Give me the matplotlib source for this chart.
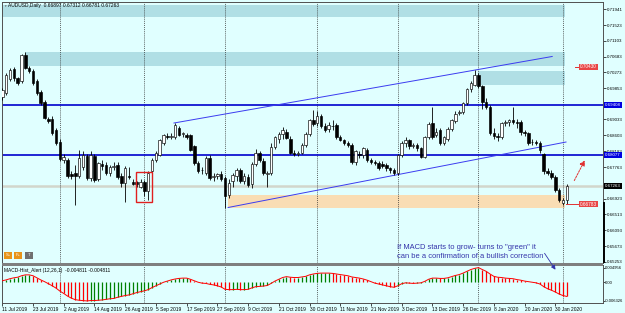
import matplotlib
matplotlib.use('Agg')
import matplotlib.pyplot as plt
from matplotlib.patches import Rectangle, FancyArrowPatch
from matplotlib.lines import Line2D

plt.rcParams['font.family'] = ['Liberation Sans', 'DejaVu Sans']

# ---------------- data ----------------
opens = [0.6962,0.6972,0.7010,0.7036,0.7011,0.7005,0.7072,0.7040,0.7030,0.7005,
         0.6975,0.6950,0.6903,0.6905,0.6875,0.6843,0.6795,0.6795,0.6758,0.6760,
         0.6752,0.6778,0.6805,0.6747,0.6805,0.6745,0.6784,0.6782,0.6760,0.6776,
         0.6782,0.6752,0.6734,0.6752,0.6738,0.6736,0.6725,0.6738,0.6712,0.6765,
         0.6795,0.6809,0.6840,0.6860,0.6857,0.6857,0.6879,0.6864,0.6862,0.6862,
         0.6831,0.6787,0.6768,0.6760,0.6800,0.6750,0.6752,0.6758,0.6747,0.6703,
         0.6740,0.6752,0.6770,0.6740,0.6750,0.6732,0.6785,0.6815,0.6792,0.6758,
         0.6760,0.6830,0.6850,0.6865,0.6870,0.6852,0.6815,0.6812,0.6815,0.6835,
         0.6865,0.6900,0.6892,0.6912,0.6885,0.6878,0.6886,0.6887,0.6857,0.6848,
         0.6839,0.6835,0.6790,0.6810,0.6809,0.6822,0.6796,0.6790,0.6787,0.6785,
         0.6782,0.6773,0.6768,0.6762,0.6808,0.6840,0.6848,0.6833,0.6835,0.6826,
         0.6804,0.6857,0.6892,0.6862,0.6875,0.6840,0.6850,0.6878,0.6898,0.6920,
         0.6922,0.6945,0.6982,0.6995,0.7020,0.6990,0.6950,0.6936,0.6866,0.6860,
         0.6855,0.6893,0.6897,0.6900,0.6897,0.6895,0.6870,0.6866,0.6842,0.6844,
         0.6840,0.6812,0.6765,0.6760,0.6751,0.6716,0.6682,0.66897]
highs = [0.6985,0.7025,0.7040,0.7042,0.7016,0.7077,0.7082,0.7045,0.7035,0.7010,
         0.6980,0.6955,0.6910,0.6912,0.6880,0.6850,0.6810,0.6800,0.6765,0.6782,
         0.6822,0.6818,0.6812,0.6818,0.6810,0.6790,0.6795,0.6790,0.6782,0.6790,
         0.6790,0.6760,0.6780,0.6778,0.6745,0.6740,0.6745,0.6742,0.6765,0.6800,
         0.6820,0.6852,0.6865,0.6868,0.6866,0.6892,0.6885,0.6870,0.6868,0.6865,
         0.6835,0.6792,0.6776,0.6805,0.6808,0.6760,0.6760,0.6765,0.6752,0.6745,
         0.6760,0.6775,0.6775,0.6760,0.6758,0.6790,0.6825,0.6820,0.6800,0.6765,
         0.6840,0.6860,0.6870,0.6882,0.6876,0.6860,0.6822,0.6820,0.6840,0.6870,
         0.6905,0.6928,0.6925,0.6918,0.6892,0.6895,0.6900,0.6892,0.6862,0.6852,
         0.6845,0.6840,0.6822,0.6818,0.6830,0.6828,0.6800,0.6795,0.6792,0.6792,
         0.6788,0.6778,0.6775,0.6812,0.6845,0.6855,0.6852,0.6840,0.6840,0.6830,
         0.6860,0.6895,0.6936,0.6880,0.6880,0.6858,0.6882,0.6905,0.6925,0.6928,
         0.6948,0.6985,0.7005,0.7034,0.7025,0.6995,0.6960,0.6940,0.6880,0.6868,
         0.6895,0.6900,0.6905,0.6936,0.6905,0.6900,0.6875,0.6870,0.6850,0.6848,
         0.6845,0.6815,0.6775,0.6770,0.6756,0.6722,0.6695,0.67312]
lows = [0.6955,0.6968,0.7003,0.7005,0.6995,0.7000,0.7035,0.7025,0.6995,0.6968,
        0.6940,0.6903,0.6892,0.6862,0.6835,0.6792,0.6788,0.6748,0.6745,0.6677,
        0.6748,0.6770,0.6742,0.6740,0.6738,0.6740,0.6770,0.6755,0.6752,0.6770,
        0.6745,0.6725,0.6685,0.6745,0.6728,0.6725,0.6720,0.6700,0.6689,0.6760,
        0.6790,0.6805,0.6835,0.6850,0.6850,0.6852,0.6858,0.6855,0.6852,0.6818,
        0.6783,0.6760,0.6758,0.6755,0.6742,0.6740,0.6745,0.6740,0.6667,0.6695,
        0.6725,0.6740,0.6735,0.6732,0.6725,0.6720,0.6780,0.6790,0.6755,0.6725,
        0.6755,0.6825,0.6840,0.6850,0.6850,0.6810,0.6805,0.6805,0.6810,0.6830,
        0.6860,0.6885,0.6885,0.6880,0.6870,0.6870,0.6875,0.6850,0.6845,0.6835,
        0.6830,0.6785,0.6782,0.6800,0.6800,0.6790,0.6785,0.6782,0.6770,0.6775,
        0.6765,0.6762,0.6755,0.6755,0.6802,0.6830,0.6825,0.6828,0.6820,0.6800,
        0.6800,0.6852,0.6850,0.6855,0.6835,0.6835,0.6845,0.6872,0.6892,0.6915,
        0.6918,0.6940,0.6975,0.6990,0.6985,0.6930,0.6930,0.6862,0.6850,0.6845,
        0.6850,0.6885,0.6885,0.6890,0.6880,0.6862,0.6860,0.6835,0.6835,0.6835,
        0.6815,0.6758,0.6755,0.6745,0.6710,0.6685,0.6676,0.66781]
closes = [0.6980,0.7020,0.7033,0.7011,0.7000,0.7072,0.7040,0.7032,0.6998,0.6972,
          0.6945,0.6906,0.6898,0.6866,0.6839,0.6797,0.6802,0.6752,0.6752,0.6752,
          0.6800,0.6809,0.6747,0.6809,0.6742,0.6787,0.6780,0.6760,0.6778,0.6779,
          0.6751,0.6735,0.6773,0.6751,0.6732,0.6732,0.6738,0.6712,0.6760,0.6796,
          0.6813,0.6848,0.6861,0.6857,0.6860,0.6888,0.6862,0.6866,0.6857,0.6822,
          0.6787,0.6765,0.6770,0.6800,0.6747,0.6752,0.6758,0.6745,0.6700,0.6734,
          0.6755,0.6770,0.6740,0.6752,0.6730,0.6785,0.6815,0.6795,0.6760,0.6760,
          0.6830,0.6855,0.6865,0.6875,0.6853,0.6815,0.6812,0.6815,0.6835,0.6865,
          0.6900,0.6890,0.6912,0.6885,0.6875,0.6888,0.6885,0.6857,0.6848,0.6839,
          0.6835,0.6790,0.6818,0.6809,0.6826,0.6796,0.6791,0.6787,0.6773,0.6780,
          0.6773,0.6769,0.6760,0.6808,0.6840,0.6848,0.6831,0.6835,0.6826,0.6804,
          0.6857,0.6890,0.6857,0.6870,0.6840,0.6855,0.6878,0.6900,0.6918,0.6922,
          0.6945,0.6982,0.7000,0.7020,0.6990,0.6950,0.6936,0.6866,0.6860,0.6855,
          0.6893,0.6897,0.6900,0.6897,0.6892,0.6870,0.6866,0.6840,0.6844,0.6840,
          0.6822,0.6765,0.6760,0.6751,0.6716,0.6689,0.6690,0.67263]
macd = [0.0005,0.0008,0.0012,0.0015,0.0017,0.0022,0.0025,0.0025,0.0022,0.0015,
        0.0008,0.0002,-0.0005,-0.0012,-0.0020,-0.0030,-0.0038,-0.0047,-0.0054,-0.0059,
        -0.0061,-0.0062,-0.006326,-0.0062,-0.0062,-0.0061,-0.0060,-0.0058,-0.0056,-0.0055,
        -0.0051,-0.0048,-0.0045,-0.0043,-0.0039,-0.0035,-0.0032,-0.0029,-0.0025,-0.0018,
        -0.0012,-0.0006,0.0000,0.0004,0.0008,0.0011,0.0013,0.0014,0.0014,0.0010,
        0.0005,0.0000,-0.0003,-0.0004,-0.0007,-0.0009,-0.0012,-0.0016,-0.0024,-0.0025,
        -0.0025,-0.0024,-0.0025,-0.0025,-0.0024,-0.0019,-0.0015,-0.0014,-0.0013,-0.0011,
        -0.0004,0.0004,0.0010,0.0016,0.0019,0.0017,0.0016,0.0016,0.0018,0.0020,
        0.0025,0.0028,0.0030,0.0031,0.0031,0.0031,0.0030,0.0028,0.0026,0.0024,
        0.0022,0.0018,0.0016,0.0014,0.0011,0.0007,0.0002,-0.0003,-0.0006,-0.0009,
        -0.0012,-0.0015,-0.0017,-0.0012,-0.0005,-0.0002,-0.0003,-0.0004,-0.0003,-0.0002,
        0.0003,0.0010,0.0014,0.0014,0.0013,0.0013,0.0015,0.0019,0.0023,0.0026,
        0.0031,0.0037,0.0043,0.0047,0.004956,0.0043,0.0037,0.0028,0.0020,0.0017,
        0.0016,0.0014,0.0013,0.0012,0.0009,0.0007,0.0004,0.0002,0.0000,-0.0002,
        -0.0006,-0.0015,-0.0022,-0.0027,-0.0033,-0.0040,-0.0045,-0.004811]

date_labels = ["11 Jul 2019", "23 Jul 2019", "2 Aug 2019", "14 Aug 2019", "26 Aug 2019",
               "5 Sep 2019", "17 Sep 2019", "27 Sep 2019", "9 Oct 2019", "21 Oct 2019",
               "30 Oct 2019", "11 Nov 2019", "21 Nov 2019", "3 Dec 2019", "13 Dec 2019",
               "26 Dec 2019", "8 Jan 2020", "20 Jan 2020", "30 Jan 2020"]
price_ticks = [0.71941, 0.71523, 0.71103, 0.70683, 0.70273, 0.69853, 0.69033, 0.68603,
               0.68183, 0.67763, 0.66923, 0.66513, 0.66093, 0.65673, 0.65253]
price_tick_labels = ["0.71941", "0.71523", "0.71103", "0.70683", "0.70273", "0.69853",
                     "0.69033", "0.68603", "0.68183", "0.67763", "0.66923", "0.66513",
                     "0.66093", "0.65673", "0.65253"]
macd_ticks = [0.004956, 0.0, -0.006326]
macd_tick_labels = ["0.004956", "0.00", "-0.006326"]
month_separators = [15, 37, 58, 82, 103, 124, 146]
blue_levels = [0.69408, 0.68077]
blue_level_labels = ["0.69408", "0.68077"]
last_price = 0.67263
title_text = "AUDUSD,Daily  0.66897 0.67312 0.66781 0.67263"

# ---------------- layout ----------------
W, H = 625, 313
BG = '#E0FFFF'
fig = plt.figure(figsize=(W / 100, H / 100), dpi=100, facecolor=BG)


def px_rect(l, t, r, b):
    return [l / W, 1 - b / H, (r - l) / W, (b - t) / H]


ax = fig.add_axes(px_rect(2, 2, 603, 263))
axm = fig.add_axes(px_rect(2, 265, 603, 303))
n = len(closes)
idx = list(range(n))
XL = (-0.08, 156.43)

for a in (ax, axm):
    a.set_facecolor(BG)
    a.set_xlim(*XL)
    for s in a.spines.values():
        s.set_color('#505050')
        s.set_linewidth(0.7)
    a.yaxis.tick_right()
    for m in month_separators:
        a.axvline(m, color='#303030', lw=0.5, ls=(0, (1.5, 1.5)), zorder=1)
ax.tick_params(axis='y', direction='out', length=2.0, width=0.5, pad=0.8,
               labelsize=3.2, colors='black')
axm.tick_params(axis='y', direction='out', length=1.2, width=0.5, pad=0.3,
                labelsize=3.0, colors='black')

# gray separator band between panels
fig.add_artist(Rectangle((2 / W, 1 - 265.5 / H), 601 / W, 3 / H, transform=fig.transFigure,
                         facecolor='#7f7f7f', edgecolor='none'))
# thick scale marker on the right border of the price panel
fig.add_artist(Line2D([603.5 / W, 603.5 / W], [1 - 203 / H, 1 - 262 / H],
                      transform=fig.transFigure, color='black', lw=1.4))

# main panel
ax.set_ylim(0.65226, 0.72134)
ax.set_yticks(price_ticks)
ax.set_yticklabels(price_tick_labels)
ax.set_xticks([])

# zones
ax.add_patch(Rectangle((-1, 0.71737), 147.5, 0.00318, fc='#B0DFE5', ec='none', zorder=0.5))
ax.add_patch(Rectangle((5.9, 0.70440), 140.6, 0.00371, fc='#B0DFE5', ec='none', zorder=0.5))
ax.add_patch(Rectangle((123.9, 0.69937), 22.6, 0.00371, fc='#B0DFE5', ec='none', zorder=0.5))
ax.add_patch(Rectangle((58.8, 0.66681), 87.7, 0.00345, fc='#F9DDB4', ec='none', zorder=0.5))

ax.axhline(last_price, color='#D2D6CC', lw=1.8, zorder=0.8)
for lv in blue_levels:
    ax.axhline(lv, color='#0000CD', lw=1.2, zorder=2)

# channel lines
ax.plot([44.7, 143.2], [0.68931, 0.70692], color='#3B3BF0', lw=0.7, zorder=2)
ax.plot([58.8, 146.8], [0.66695, 0.68428], color='#3B3BF0', lw=0.7, zorder=2)

# candles
for i in idx:
    o, h, l, c = opens[i], highs[i], lows[i], closes[i]
    ax.plot([i, i], [l, h], color='black', lw=0.6, zorder=3, solid_capstyle='butt')
    bull = c >= o
    bh = max(abs(c - o), 0.00004)
    ax.add_patch(Rectangle((i - 0.33, min(o, c)), 0.66, bh,
                           fc='white' if bull else 'black', ec='black', lw=0.45, zorder=4))

# red box
ax.add_patch(Rectangle((34.8, 0.66840), 4.2, 0.00794, fc='none', ec='#E02020', lw=1.0, zorder=5))

# right-axis coloured labels
ytr = ax.get_yaxis_transform()
for lv, lab in zip(blue_levels, blue_level_labels):
    ax.text(1.003, lv, lab, transform=ytr, ha='left', va='center', fontsize=3.2, color='white',
            bbox=dict(boxstyle='square,pad=0.25', fc='#0000E0', ec='none'), clip_on=False, zorder=6)
ax.text(1.003, last_price, "0.67263", transform=ytr, ha='left', va='center', fontsize=3.2,
        color='white', bbox=dict(boxstyle='square,pad=0.25', fc='black', ec='none'),
        clip_on=False, zorder=6)

# red price labels
for lv, lab, x0 in [(0.70414, "0.70430", 149.2), (0.66787, "0.66783", 146.8)]:
    ax.plot([x0, 150.4], [lv, lv], color='#E03030', lw=0.7, zorder=5)
    ax.text(150.5, lv, lab, ha='left', va='center', fontsize=3.4, color='white',
            bbox=dict(boxstyle='square,pad=0.2', fc='#E84545', ec='none'), zorder=6)

# title
fig.text(8 / W, 1 - 5.5 / H, title_text, fontsize=3.5, color='black', ha='left', va='center')
fig.text(3.5 / W, 1 - 5.5 / H, '\u25BC', fontsize=2.5, color='#707070', ha='left', va='center')

# small buttons
for x0, lab, col in [(4, 'S+', '#E8941A'), (14, 'F+', '#E8941A'), (25, 'T.', '#707070')]:
    fig.add_artist(Rectangle((x0 / W, 1 - 259 / H), 8 / W, 7 / H, transform=fig.transFigure,
                             facecolor=col, edgecolor='none'))
    fig.text((x0 + 4) / W, 1 - 255.5 / H, lab, fontsize=3.0, color='white', ha='center',
             va='center')

# annotation text and arrows
fig.text(397 / W, 1 - 252 / H,
         "If MACD starts to grow- turns to \"green\" it\ncan be a confirmation of a bullish correction",
         fontsize=5.4, color='#3333AA', ha='left', va='center', linespacing=1.3)
fig.add_artist(FancyArrowPatch((543 / W, 1 - 251 / H), (557 / W, 1 - 272 / H),
                               transform=fig.transFigure, arrowstyle='-|>,head_length=2.5,head_width=1.3',
                               color='#3333AA', lw=0.6))
fig.add_artist(FancyArrowPatch((573 / W, 1 - 183 / H), (586 / W, 1 - 158 / H),
                               transform=fig.transFigure, arrowstyle='-|>,head_length=3,head_width=1.6',
                               color='#E03030', lw=0.7, linestyle=(0, (2, 1.2))))

# MACD panel
axm.set_ylim(-0.00703, 0.00584)
axm.set_yticks(macd_ticks)
axm.set_yticklabels(macd_tick_labels)
cols = ['#008000' if (i == 0 or macd[i] >= macd[i - 1]) else '#FF0000' for i in idx]
axm.vlines(idx, 0, macd, colors=cols, lw=0.9, zorder=2)
axm.plot(idx, macd, color='#FF0000', lw=0.7, zorder=3)
axm.set_xticks(list(range(0, 8 * len(date_labels), 8)))
axm.set_xticklabels(date_labels, ha='left')
axm.tick_params(axis='x', direction='out', length=2.0, width=0.5, pad=1.2, labelsize=3.5)
axm.text(0.003, 0.86, "MACD-Hist_Alert (12,26,1)  -0.004811 -0.004811", transform=axm.transAxes,
         fontsize=3.5, ha='left', va='center', color='black')

fig.savefig('out.png', dpi=100, facecolor=BG)
